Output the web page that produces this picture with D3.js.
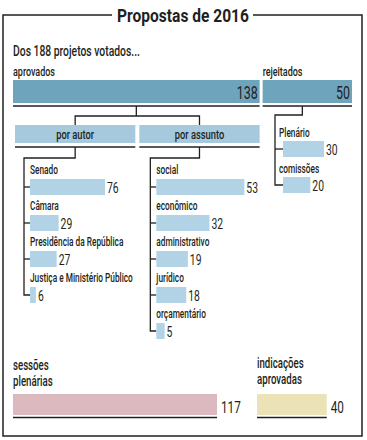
<!DOCTYPE html>
<html><head><meta charset="utf-8">
<script src="https://cdn.jsdelivr.net/npm/d3@7"></script>
<style>
html,body{margin:0;padding:0;background:#fff;}
svg text{font-family:Roboto,'Liberation Sans',sans-serif;fill:#231f20;font-weight:500;}
svg text.val{font-weight:400;}
</style></head>
<body>
<svg id="c" width="367" height="440"></svg>
<script>
// ---- data ----
const title = "Propostas de 2016";
const subtitle = "Dos 188 projetos votados...";
const topCats = ["aprovados", "rejeitados"];
const topVals = [138, 50];
const groupCats = ["por autor", "por assunto"];
const autorCats = ["Senado", "Câmara", "Presidência da República", "Justiça e Ministério Público"];
const autorVals = [76, 29, 27, 6];
const assuntoCats = ["social", "econômico", "administrativo", "jurídico", "orçamentário"];
const assuntoVals = [53, 32, 19, 18, 5];
const rejCats = ["Plenário", "comissões"];
const rejVals = [30, 20];
const bottomCats = [["sessões", "plenárias"], ["indicações", "aprovadas"]];
const bottomVals = [117, 40];

const svg = d3.select("#c");
const ink = "#231f20";
const lineW = 1.3;

// condensed-type emulation: horizontal compression calibrated on one label
const probe = svg.append("text").style("font-size", "12px").text(autorCats[3]);
const SX = 103 / probe.node().getComputedTextLength();
probe.remove();
function cond(sel, sx) {
  sel.each(function () {
    const x = +this.getAttribute("x");
    this.setAttribute("transform", `translate(${x},0) scale(${sx},1) translate(${-x},0)`);
  });
  return sel;
}
function txt(x, y, s, size, anchor, cls) {
  const t = svg.append("text").attr("x", x).attr("y", y).style("font-size", size + "px")
    .attr("text-anchor", anchor || "start").attr("class", cls || null).text(s);
  return cond(t, SX);
}

// frame + title
const t = svg.append("text").attr("x", 183).attr("y", 22).attr("text-anchor", "middle")
  .style("font-weight", "bold").style("font-size", "18px").text(title);
const tSX = 132 / t.node().getComputedTextLength();
cond(t, tSX);
const tw = 132;
svg.append("path")
  .attr("d", `M${183 - tw/2 - 5},15 H3 V436 H362 V15 H${183 + tw/2 + 4}`)
  .attr("fill", "none").attr("stroke", ink).attr("stroke-width", 1.5);

txt(13, 56, subtitle, 15);

// ---- top bars ----
const xTop = d3.scaleLinear().domain([0, d3.sum(topVals)]).range([0, 336]);
const gap = 3;
const topX = [13, 13 + xTop(topVals[0]) + gap];
topCats.forEach((c, i) => {
  const x0 = topX[i], w = xTop(topVals[i]);
  txt(x0, 76, c, 13);
  svg.append("rect").attr("x", x0).attr("y", 80).attr("width", w).attr("height", 23).attr("fill", "#6fa4bd");
  txt(x0 + w - 2, 99, topVals[i], 18, "end", "val");
  svg.append("line").attr("x1", x0).attr("x2", x0 + w).attr("y1", 106).attr("y2", 106)
    .attr("stroke", ink).attr("stroke-width", lineW);
});

// aprovados connector and group headers
const apW = xTop(topVals[0]);
const hdrW = (apW - 2 - 4) / 2;
const hdrX = [15, 15 + hdrW + 4];
const hdrC = hdrX.map(x => x + hdrW / 2);
svg.append("path")
  .attr("d", `M${13 + apW/2},106 V116 M${hdrC[0]},125 V116 H${hdrC[1]} V125`)
  .attr("fill", "none").attr("stroke", ink).attr("stroke-width", lineW);
groupCats.forEach((g, i) => {
  svg.append("rect").attr("x", hdrX[i]).attr("y", 125).attr("width", hdrW).attr("height", 18).attr("fill", "#a6c9dd");
  txt(hdrC[i], 139, g, 13.5, "middle");
  svg.append("line").attr("x1", hdrX[i]).attr("x2", hdrX[i] + hdrW).attr("y1", 147).attr("y2", 147)
    .attr("stroke", ink).attr("stroke-width", lineW);
});

// generic list drawing
function drawList(cats, vals, xScale, yBand, trunkX, barX, labelX, fromX, fromY, elbowY, barOff) {
  const mids = cats.map(c => yBand(c) + barOff + 8);
  const last = mids[mids.length - 1];
  svg.append("path")
    .attr("d", `M${fromX},${fromY} V${elbowY} H${trunkX} V${last} H${barX}`)
    .attr("fill", "none").attr("stroke", ink).attr("stroke-width", lineW);
  cats.forEach((c, i) => {
    const y0 = yBand(c);
    if (i < cats.length - 1)
      svg.append("line").attr("x1", trunkX).attr("x2", barX).attr("y1", mids[i]).attr("y2", mids[i])
        .attr("stroke", ink).attr("stroke-width", lineW);
    txt(labelX, y0 + 11.5, c, 12);
    const w = xScale(vals[i]);
    svg.append("rect").attr("x", barX).attr("y", y0 + barOff).attr("width", w).attr("height", 16).attr("fill", "#b2d3e6");
    txt(barX + w + 2, y0 + barOff + 14.5, vals[i], 15, "start", "val");
  });
}

const xAutor = d3.scaleLinear().domain([0, 76]).range([0, 75]);
const yAutor = d3.scaleBand().domain(autorCats).range([163, 163 + 36 * autorCats.length]);
drawList(autorCats, autorVals, xAutor, yAutor, hdrX[0] + 9, hdrX[0] + 15, hdrX[0] + 15, hdrC[0], 147, 158, 16);

const xAssunto = d3.scaleLinear().domain([0, 53]).range([0, 88]);
const yAssunto = d3.scaleBand().domain(assuntoCats).range([163, 163 + 36 * assuntoCats.length]);
drawList(assuntoCats, assuntoVals, xAssunto, yAssunto, hdrX[1] + 11, hdrX[1] + 17, hdrX[1] + 17, hdrC[1], 147, 158, 16);

const xRej = d3.scaleLinear().domain([0, 30]).range([0, 41]);
const yRej = d3.scaleBand().domain(rejCats).range([126, 126 + 36 * rejCats.length]);
const rejC = topX[1] + xTop(topVals[1]) / 2 - 5;
drawList(rejCats, rejVals, xRej, yRej, 275, 283, 279, rejC, 106, 115, 15);

// ---- bottom ----
const xBot = d3.scaleLinear().domain([0, 117]).range([0, 204]);
const botX = [13, 257];
const botCol = ["#dcb9bf", "#ebe3b7"];
bottomCats.forEach((lines, i) => {
  lines.forEach((l, j) => txt(botX[i], (i ? 368 : 370) + j * 16, l, 14));
  const w = xBot(bottomVals[i]);
  svg.append("rect").attr("x", botX[i]).attr("y", 394).attr("width", w).attr("height", 21).attr("fill", botCol[i]);
  svg.append("line").attr("x1", botX[i]).attr("x2", botX[i] + w).attr("y1", 417.5).attr("y2", 417.5)
    .attr("stroke", ink).attr("stroke-width", lineW);
  txt(botX[i] + w + 4, 413, bottomVals[i], 17, "start", "val");
});
</script>
</body></html>
